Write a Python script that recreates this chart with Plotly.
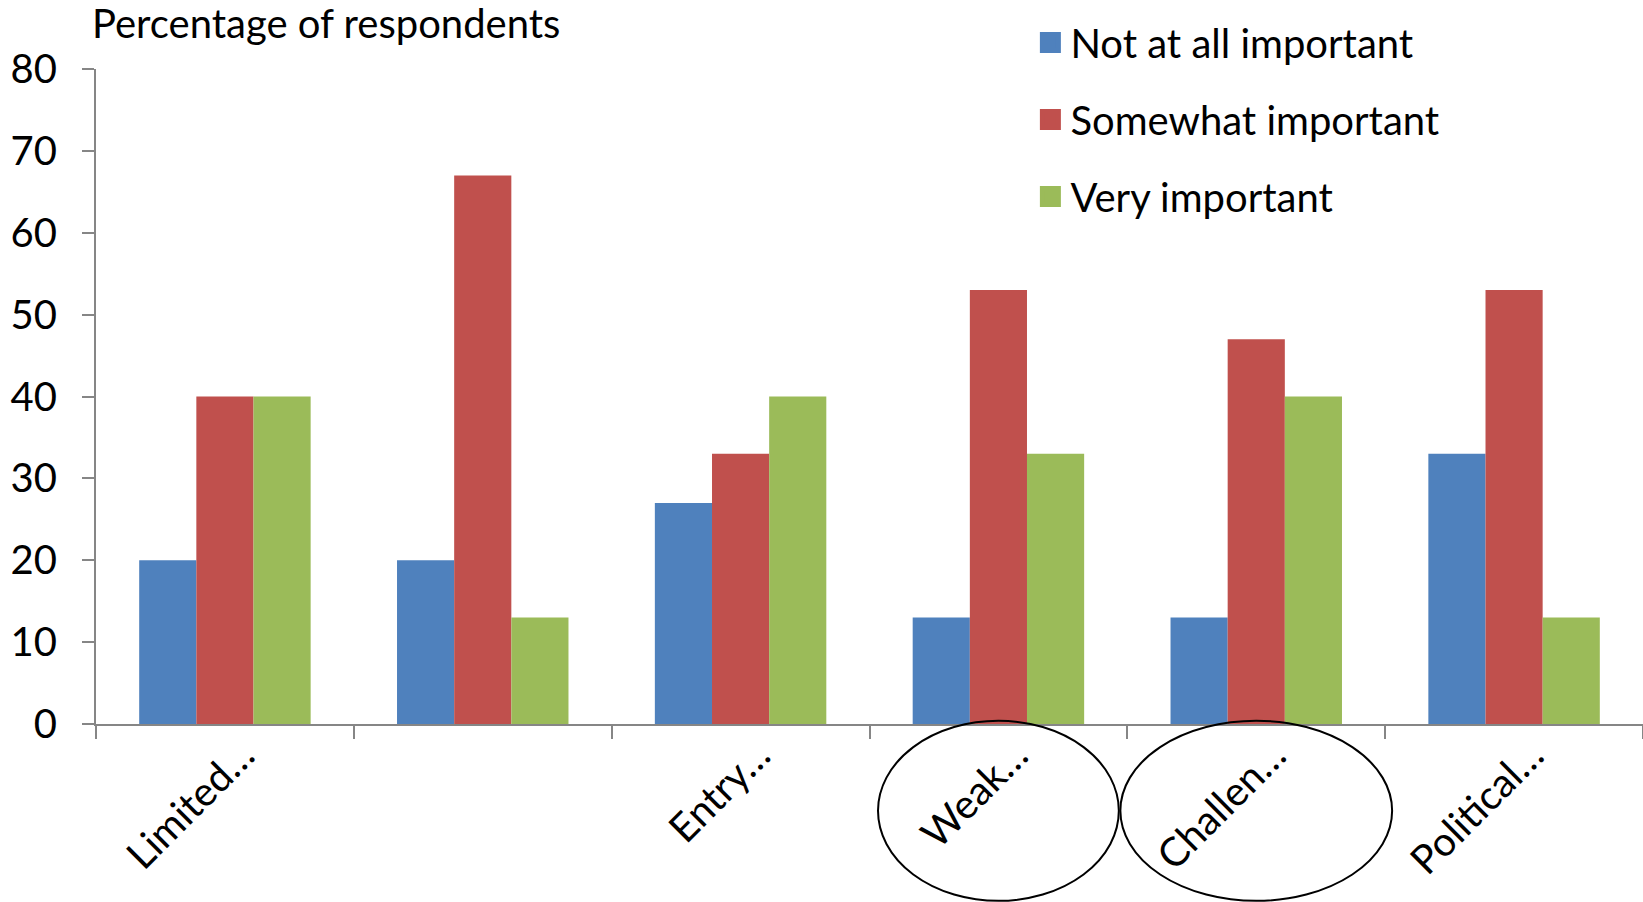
import plotly.graph_objects as go

# Survey results: share of respondents rating each factor
categories = ["Limited…", "\u00a0", "Entry…", "Weak…", "Challen…", "Political…"]
not_at_all = [20, 20, 27, 13, 13, 33]
somewhat = [40, 67, 33, 53, 47, 53]
very = [40, 13, 40, 33, 40, 13]
series_names = ["Not at all important", "Somewhat important", "Very important"]
series_colors = ["#4F81BD", "#C0504D", "#9BBB59"]

FONT = "Lato"
W, H = 1643, 902
ML, MR, MT, MB = 96, 0, 69, 178
N_CAT = len(categories)

fig = go.Figure()
for name, vals, col in zip(series_names, [not_at_all, somewhat, very], series_colors):
    fig.add_trace(go.Bar(
        x=categories, y=vals, name=name, legendgroup=name, showlegend=False,
        marker=dict(color=col, line=dict(width=0)),
    ))
# legend entries drawn as large square swatches
for name, col in zip(series_names, series_colors):
    fig.add_trace(go.Scatter(
        x=[None], y=[None], name=name, legendgroup=name, mode="markers",
        marker=dict(symbol="square", size=16, color=col, line=dict(color=col, width=5)),
    ))

# circles highlighting two of the factor labels (centred on their categories)
for idx, half_w in [(3, 0.467), (4, 0.527)]:
    cx = (idx + 0.5) / N_CAT
    fig.add_shape(type="circle", xref="paper", yref="paper",
                  x0=cx - half_w / N_CAT, x1=cx + half_w / N_CAT, y0=0.005, y1=-0.27,
                  line=dict(color="black", width=2))

fig.add_annotation(text="Percentage of respondents", xref="paper", yref="paper",
                   x=-0.004, y=1.07, xanchor="left", yanchor="middle",
                   showarrow=False, font=dict(family=FONT, size=40, color="black"))

fig.update_layout(
    width=W, height=H,
    margin=dict(l=ML, r=MR, t=MT, b=MB, autoexpand=False),
    paper_bgcolor="white", plot_bgcolor="white",
    barmode="group", bargap=0.335, bargroupgap=0,
    font=dict(family=FONT, size=40, color="black"),
    legend=dict(x=0.604, y=1.09, xanchor="left", yanchor="top",
                bgcolor="rgba(0,0,0,0)", tracegroupgap=22,
                font=dict(family=FONT, size=40, color="black")),
    xaxis=dict(type="category", showline=True, linecolor="#868686", linewidth=2,
               ticks="outside", tickson="boundaries", ticklen=13, tickcolor="#868686",
               tickwidth=1.5, tickangle=-45, ticklabelshift=18, ticklabelstandoff=-10,
               showgrid=False, zeroline=False, automargin=False,
               tickfont=dict(family=FONT, size=40, color="black")),
    yaxis=dict(range=[0, 80], dtick=10, showline=True, linecolor="#868686", linewidth=2,
               ticks="outside", ticklen=12, tickcolor="#868686", tickwidth=1.5,
               showgrid=False, zeroline=False, automargin=False, ticklabelstandoff=17,
               tickfont=dict(family=FONT, size=40, color="black")),
)

fig.write_html("out.html")
